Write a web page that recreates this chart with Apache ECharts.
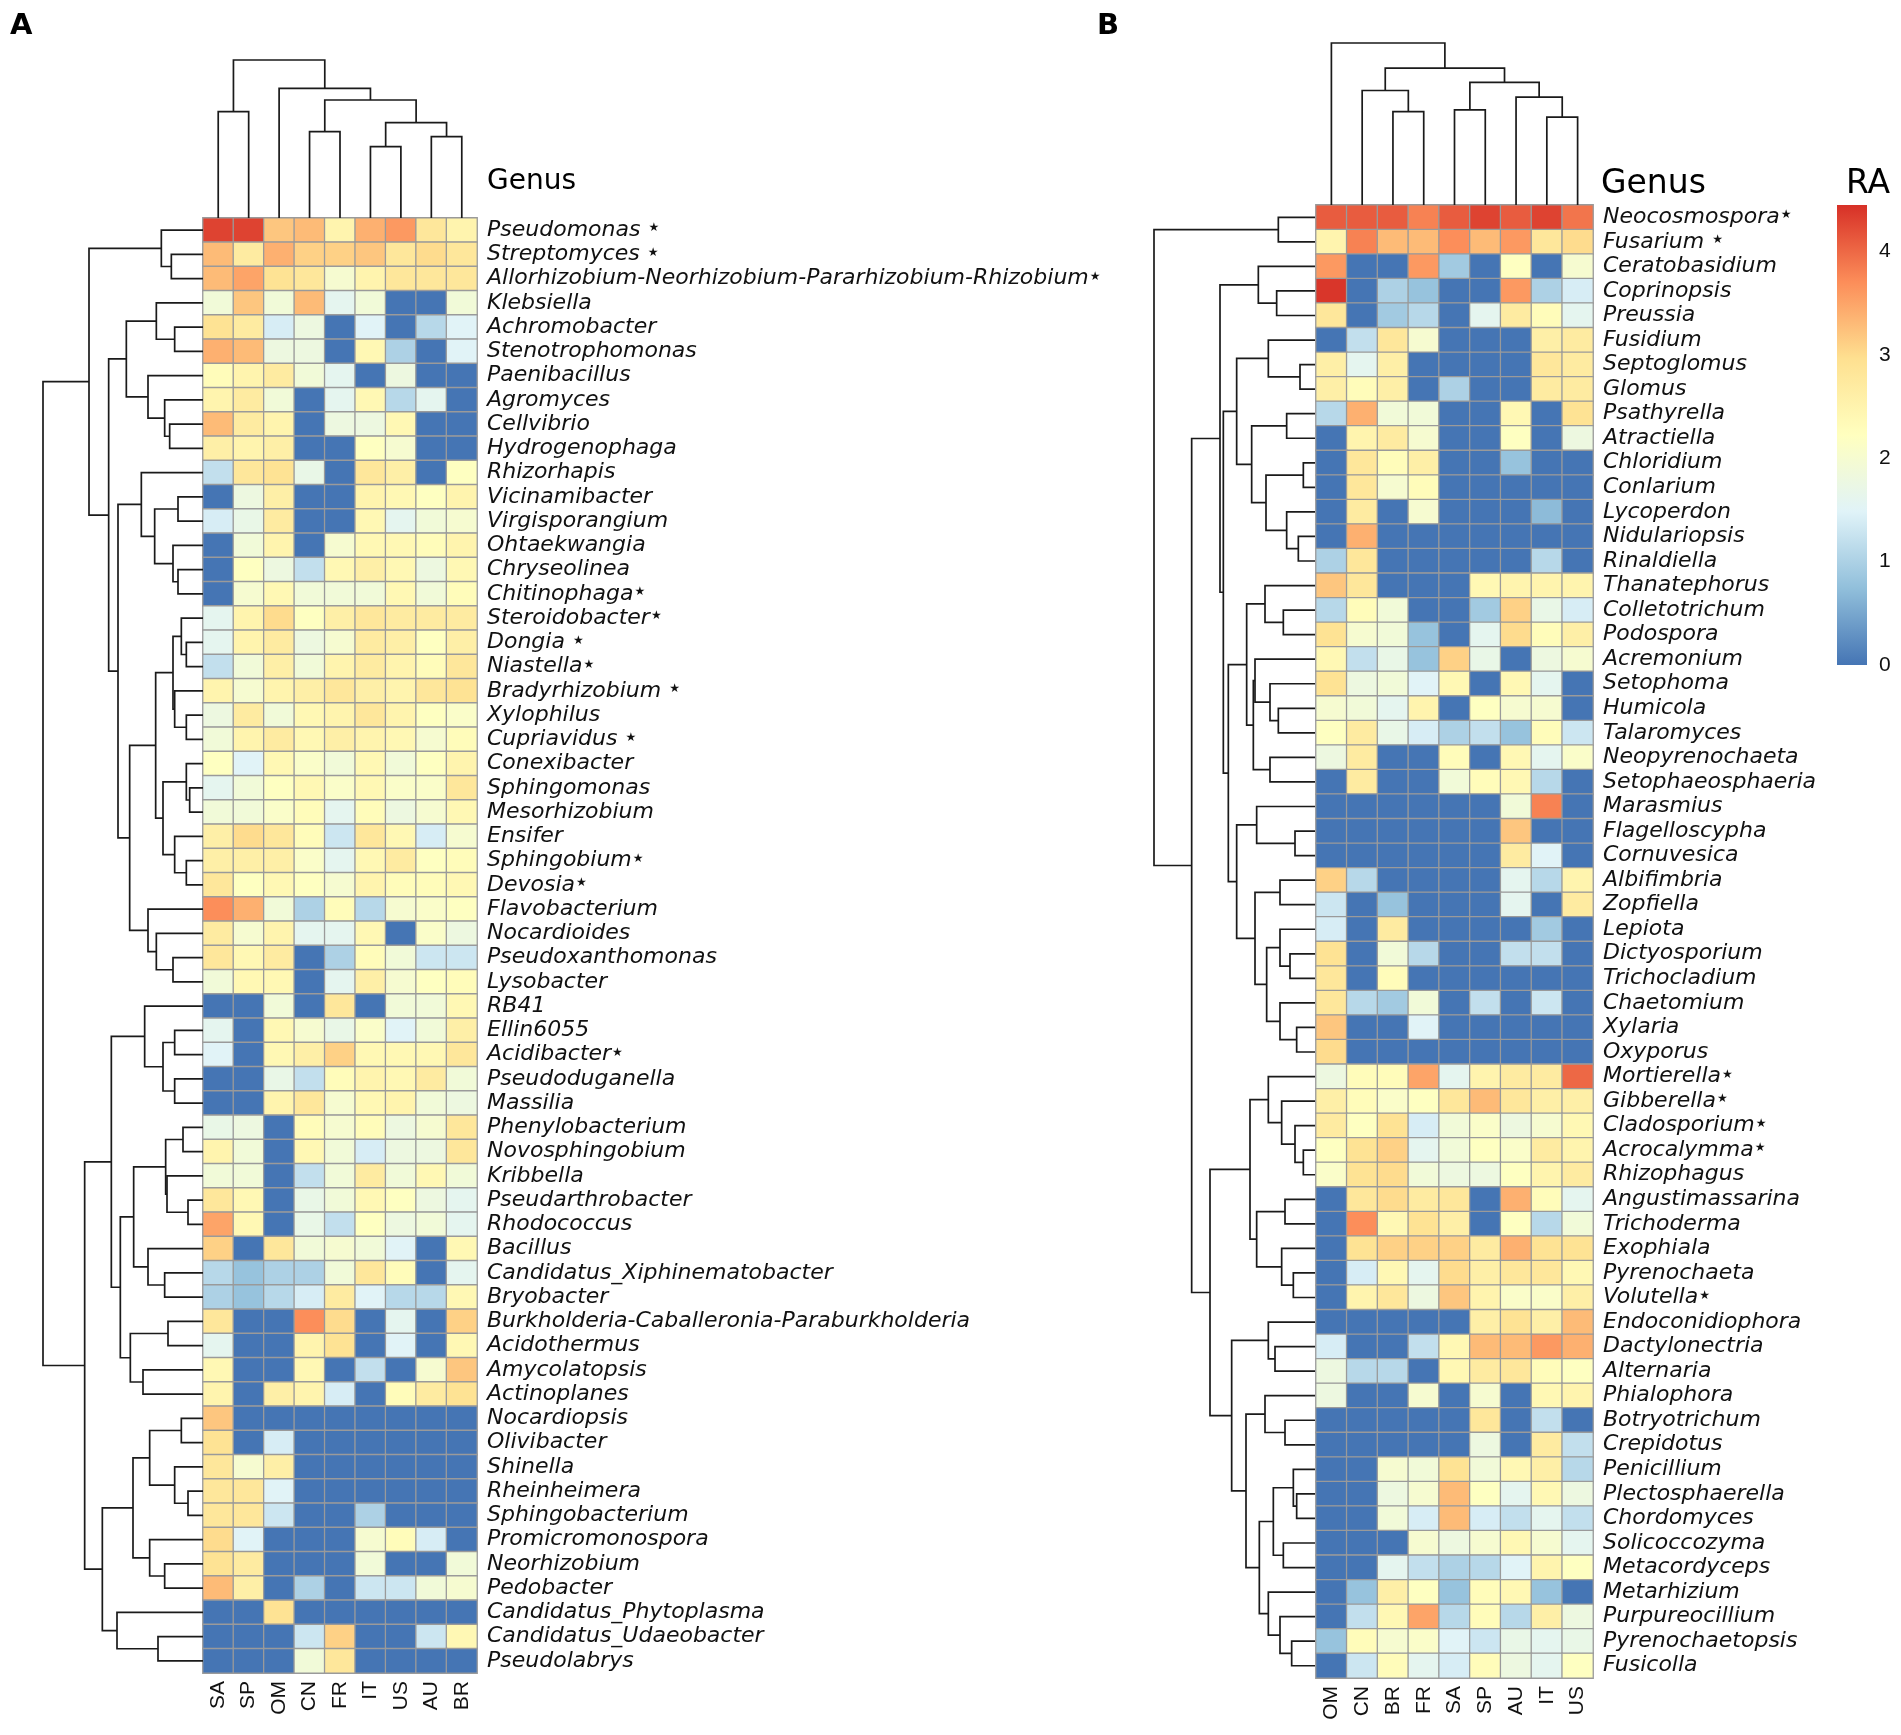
<!DOCTYPE html>
<html>
<head>
<meta charset="utf-8">
<script src="https://cdn.jsdelivr.net/npm/echarts@6/dist/echarts.min.js"></script>
<style>
html,body{margin:0;padding:0;background:#fff;}
#chart{width:1901px;height:1735px;}
</style>
</head>
<body>
<div id="chart"></div>
<script>
// ---------------- DATA ----------------
const colsA = ['SA','SP','OM','CN','FR','IT','US','AU','BR'];
const colsB = ['OM','CN','BR','FR','SA','SP','AU','IT','US'];

const rowsA = ['Pseudomonas *','Streptomyces *','Allorhizobium-Neorhizobium-Pararhizobium-Rhizobium*','Klebsiella','Achromobacter','Stenotrophomonas','Paenibacillus','Agromyces','Cellvibrio','Hydrogenophaga','Rhizorhapis','Vicinamibacter','Virgisporangium','Ohtaekwangia','Chryseolinea','Chitinophaga*','Steroidobacter*','Dongia *','Niastella*','Bradyrhizobium *','Xylophilus','Cupriavidus *','Conexibacter','Sphingomonas','Mesorhizobium','Ensifer','Sphingobium*','Devosia*','Flavobacterium','Nocardioides','Pseudoxanthomonas','Lysobacter','RB41','Ellin6055','Acidibacter*','Pseudoduganella','Massilia','Phenylobacterium','Novosphingobium','Kribbella','Pseudarthrobacter','Rhodococcus','Bacillus','Candidatus_Xiphinematobacter','Bryobacter','Burkholderia-Caballeronia-Paraburkholderia','Acidothermus','Amycolatopsis','Actinoplanes','Nocardiopsis','Olivibacter','Shinella','Rheinheimera','Sphingobacterium','Promicromonospora','Neorhizobium','Pedobacter','Candidatus_Phytoplasma','Candidatus_Udaeobacter','Pseudolabrys'];

const rowsB = ['Neocosmospora*','Fusarium *','Ceratobasidium','Coprinopsis','Preussia','Fusidium','Septoglomus','Glomus','Psathyrella','Atractiella','Chloridium','Conlarium','Lycoperdon','Nidulariopsis','Rinaldiella','Thanatephorus','Colletotrichum','Podospora','Acremonium','Setophoma','Humicola','Talaromyces','Neopyrenochaeta','Setophaeosphaeria','Marasmius','Flagelloscypha','Cornuvesica','Albifimbria','Zopfiella','Lepiota','Dictyosporium','Trichocladium','Chaetomium','Xylaria','Oxyporus','Mortierella*','Gibberella*','Cladosporium*','Acrocalymma*','Rhizophagus','Angustimassarina','Trichoderma','Exophiala','Pyrenochaeta','Volutella*','Endoconidiophora','Dactylonectria','Alternaria','Phialophora','Botryotrichum','Crepidotus','Penicillium','Plectosphaerella','Chordomyces','Solicoccozyma','Metacordyceps','Metarhizium','Purpureocillium','Pyrenochaetopsis','Fusicolla'];

const heatA = [
[4.3,4.3,3.2,3.3,2.5,3.4,3.6,2.8,2.5],
[3.3,2.7,3.4,3.1,3.1,3.2,2.8,3.0,2.8],
[3.3,3.5,2.9,2.8,2.0,2.5,2.8,2.8,2.8],
[1.9,3.2,1.9,3.3,1.6,1.9,0,0,1.9],
[2.9,2.7,1.4,1.8,0,1.5,0,1.1,1.5],
[3.4,3.3,1.8,1.8,0,2.4,1.0,0,1.5],
[2.3,2.5,2.7,1.9,1.6,0,1.8,0,0],
[2.5,2.7,1.9,0,1.6,2.4,1.1,1.6,0],
[3.3,2.7,2.5,0,1.8,1.8,2.4,0,0],
[2.6,2.5,2.6,0,0,2.2,2.0,0,0],
[1.2,2.8,2.9,1.7,0,2.8,2.6,0,2.2],
[0,1.8,2.6,0,0,2.5,2.4,2.2,2.5],
[1.4,1.7,2.7,0,0,2.4,1.6,1.9,2.0],
[0,1.9,2.5,0,2.0,2.4,2.4,2.3,2.5],
[0,2.2,1.8,1.2,2.4,2.6,2.4,1.8,2.4],
[0,2.0,2.4,1.9,1.9,1.9,2.4,1.9,2.3],
[1.6,2.5,3.0,2.2,2.6,2.8,2.7,2.7,2.7],
[1.6,2.5,2.7,1.8,2.0,2.7,2.6,2.2,2.6],
[1.2,1.9,2.6,1.9,2.5,2.7,2.5,2.3,2.8],
[2.5,2.0,2.5,2.6,2.8,2.6,2.5,2.8,2.9],
[1.8,2.7,1.9,2.4,2.5,2.8,2.5,2.2,2.1],
[1.9,2.5,2.7,2.4,2.6,2.5,2.4,2.0,2.3],
[2.2,1.5,2.4,2.1,1.9,2.4,1.9,2.2,2.5],
[1.6,1.9,2.2,2.4,2.1,2.4,2.1,2.1,2.8],
[1.9,1.9,2.1,2.3,1.6,2.3,1.8,2.0,2.4],
[2.6,3.0,2.8,2.3,1.3,2.8,2.4,1.4,2.0],
[2.6,2.6,2.6,2.1,1.6,2.4,2.7,2.2,2.3],
[2.8,2.2,2.4,2.2,2.0,2.5,2.3,2.3,2.4],
[3.7,3.4,1.9,1.0,2.3,1.1,2.0,2.1,2.2],
[2.7,2.0,2.5,1.6,1.6,2.4,0,2.1,1.8],
[2.8,2.4,2.7,0,1.0,2.3,1.9,1.3,1.3],
[1.9,2.4,2.4,0,1.6,2.6,2.0,2.2,2.3],
[0,0,1.9,0,2.8,0,1.9,1.9,2.4],
[1.6,0,2.4,2.0,1.7,2.1,1.5,1.9,2.6],
[1.5,0,2.4,2.6,3.1,2.4,2.4,2.4,2.8],
[0,0,1.7,1.2,2.3,2.5,2.4,2.7,1.9],
[0,0,2.5,2.8,2.0,2.4,2.5,1.9,1.8],
[1.7,1.8,0,2.3,2.0,2.3,1.8,2.0,2.8],
[2.5,1.9,0,2.4,1.9,1.4,1.8,1.8,2.8],
[1.9,1.9,0,1.2,1.9,2.7,1.9,2.4,1.9],
[2.8,2.4,0,1.7,1.9,2.4,2.2,1.8,1.6],
[3.5,2.4,0,1.7,1.2,2.2,1.8,1.9,1.6],
[3.1,0,2.8,1.9,2.0,1.9,1.5,0,2.4],
[1.1,0.8,1.0,1.0,1.9,2.8,2.3,0,1.6],
[1.0,0.8,1.1,1.4,2.7,1.5,1.1,1.1,2.4],
[2.8,0,0,3.7,3.0,0,1.6,0,3.1],
[1.6,0,0,2.5,2.9,0,1.5,0,2.4],
[2.4,0,0,2.4,0,1.2,0,2.0,3.2],
[2.5,0,2.6,2.5,1.4,0,2.3,2.7,2.9],
[3.2,0,0,0,0,0,0,0,0],
[2.9,0,1.4,0,0,0,0,0,0],
[2.8,2.0,2.6,0,0,0,0,0,0],
[2.8,2.8,1.5,0,0,0,0,0,0],
[2.8,2.8,1.3,0,0,1.0,0,0,0],
[3.0,1.5,0,0,0,2.0,2.3,1.4,0],
[2.9,2.7,0,0,0,1.9,0,0,1.9],
[3.3,2.6,0,1.0,0,1.3,1.3,1.9,2.0],
[0,0,2.9,0,0,0,0,0,0],
[0,0,0,1.3,3.1,0,0,1.3,2.4],
[0,0,0,1.9,2.8,0,0,0,0]
];

const heatB = [
[4.1,4.1,4.1,3.8,4.1,4.3,4.1,4.3,3.9],
[2.5,3.8,3.3,3.3,3.7,3.3,3.6,2.8,3.0],
[3.6,0,0,3.6,0.9,0,2.2,0,2.0],
[4.4,0,1.0,0.8,0,0,3.6,1.0,1.4],
[2.8,0,0.9,1.1,0,1.6,2.7,2.3,1.6],
[0,1.2,2.8,2.0,0,0,0,2.6,2.7],
[2.6,1.6,2.6,0,0,0,0,2.8,2.7],
[2.6,2.3,2.6,0,1.0,0,0,2.7,2.7],
[1.1,3.4,1.9,1.9,0,0,2.4,0,2.9],
[0,2.5,2.7,2.0,0,0,2.2,0,1.8],
[0,2.8,2.3,2.6,0,0,0.8,0,0],
[0,2.8,2.0,2.3,0,0,0,0,0],
[0,2.7,0,2.0,0,0,0,0.7,0],
[0,3.4,0,0,0,0,0,0,0],
[1.0,2.8,0,0,0,0,0,1.1,0],
[3.2,2.8,0,0,0,2.4,2.5,2.5,2.5],
[1.1,2.3,1.9,0,0,0.9,3.1,1.7,1.4],
[2.9,2.0,1.9,0.8,0,1.6,3.0,2.3,2.6],
[2.4,1.2,1.7,0.8,3.1,1.7,0,1.8,2.0],
[2.9,1.8,1.9,1.5,2.4,0,2.4,1.6,0],
[2.0,1.9,1.6,2.5,0,2.2,2.0,2.0,0],
[2.2,2.7,1.7,1.4,1.0,1.2,0.8,2.3,1.3],
[1.8,2.7,0,0,2.3,0,2.4,1.6,2.1],
[0,2.7,0,0,1.9,2.3,2.4,1.1,0],
[0,0,0,0,0,0,1.9,3.8,0],
[0,0,0,0,0,0,3.2,0,0],
[0,0,0,0,0,0,2.7,1.5,0],
[3.1,1.1,0,0,0,0,1.6,1.1,2.5],
[1.3,0,0.8,0,0,0,1.6,0,2.7],
[1.4,0,2.7,0,0,0,0,0.9,0],
[2.9,0,1.9,1.1,0,0,1.2,1.2,0],
[2.8,0,2.3,0,0,0,0,0,0],
[2.8,1.1,0.9,1.9,0,1.2,0,1.3,0],
[3.2,0,0,1.5,0,0,0,0,0],
[3.0,0,0,0,0,0,0,0,0],
[1.8,2.3,2.3,3.5,1.6,2.5,2.7,2.7,4.0],
[2.6,2.3,2.1,2.2,2.8,3.3,2.8,2.6,2.6],
[2.7,2.2,2.9,1.4,1.9,2.1,1.8,2.0,2.4],
[2.2,2.9,3.1,1.6,1.9,2.2,2.1,2.7,2.5],
[2.1,2.9,3.0,1.9,1.8,1.8,2.2,2.5,2.7],
[0,2.8,3.0,2.7,2.8,0,3.4,2.3,1.6],
[0,3.7,2.4,2.9,2.6,0,2.2,1.1,1.9],
[0,2.9,3.1,3.1,3.1,2.7,3.4,2.9,2.9],
[0,1.4,2.4,1.6,3.0,2.6,2.8,2.8,2.4],
[0,2.5,2.8,1.8,3.2,2.5,2.1,2.1,2.6],
[0,0,0,0,0,2.6,2.9,2.6,3.3],
[1.4,0,0,1.2,2.4,3.3,3.3,3.6,3.4],
[1.8,1.1,1.1,0,2.4,2.7,2.8,2.3,2.2],
[1.8,0,0,2.0,0,2.0,0,2.4,2.5],
[0,0,0,0,0,2.8,0,1.2,0],
[0,0,0,0,0,1.8,0,2.7,1.2],
[0,0,2.0,1.9,2.9,1.9,2.4,2.6,1.1],
[0,0,1.8,2.0,3.3,2.2,1.6,2.4,1.8],
[0,0,1.9,1.4,3.3,1.4,1.2,1.6,1.2],
[0,0,0,2.0,1.8,2.0,2.4,2.0,1.6],
[0,0,1.6,1.2,1.0,1.1,1.5,2.5,2.2],
[0,0.8,2.6,2.2,0.8,2.3,2.4,0.8,0],
[0,1.2,2.4,3.5,1.1,2.3,1.1,2.6,1.8],
[0.8,2.3,2.0,2.1,1.5,1.3,1.7,1.6,1.7],
[0,1.3,2.3,1.6,1.4,2.3,1.8,1.6,2.2]
];

// Dendrogram merges (hclust style): [childA, childB, height]; negative = leaf (display order, 1-based), positive = earlier merge (1-based)
const colTreeA = [[-6,-7,71.3],[-8,-9,81.3],[-4,-5,86.3],[1,2,95.3],[-1,-2,106.3],[3,4,118],[-3,6,129.7],[5,7,158]];
const colTreeB = [[-8,-9,87.7],[-3,-4,93.3],[-5,-6,95],[-7,1,107.7],[-2,2,114.3],[3,4,122.3],[5,6,136.7],[-1,7,161.7]];

const rowTreeA = [
[-2,-3,95],[-1,1,125],[-5,-6,85],[-4,3,140],[-9,-10,100],[-8,5,115],[-7,6,165],[4,7,230],
[-12,-13,75],[-15,-16,75],[-14,10,90],[9,11,145],[-11,12,185],
[-18,-19,50],[-17,14,65],[-21,-22,50],[-20,16,85],[15,17,90],
[-24,-25,40],[-23,19,50],[-27,-28,50],[-26,21,85],[20,22,120],[18,23,142],
[-31,-32,90],[-30,25,140],[-29,26,165],[24,27,220],[13,28,255],[8,29,283],[2,30,342],
[-34,-35,85],[-36,-37,85],[32,33,120],[-33,34,175],
[-38,-39,60],[-41,-42,45],[-40,37,108],[36,38,112],[-44,-45,115],[-43,40,165],[39,41,208],
[-46,-47,105],[-48,-49,180],[43,44,218],[42,45,248],[35,46,275],
[-50,-51,65],[-53,-54,45],[-52,49,85],[48,50,160],[-56,-57,115],[-55,52,160],[51,53,210],
[-59,-60,135],[-58,55,258],[54,56,302],[47,57,355],[31,58,480]
];

const rowTreeB = [
[-1,-2,110],[-4,-5,115],[-3,2,170],[-7,-8,45],[-6,4,140],[-9,-10,85],[-11,-12,35],[-14,-15,50],
[-13,8,85],[7,9,147],[6,10,190],[5,11,235],[-17,-18,95],[-16,13,150],[-21,-22,110],[-20,15,135],
[-19,16,180],[-23,-24,135],[17,18,185],[14,19,205],[-26,-27,60],[-25,21,175],[-28,-29,105],
[-31,-32,75],[-30,24,105],[-34,-35,55],[-33,26,105],[25,27,145],[23,28,180],[22,29,235],
[20,30,260],[12,31,275],[3,32,285],
[-39,-40,35],[-38,34,60],[-37,35,100],[-36,36,140],[-41,-42,90],[-44,-45,65],[-43,39,100],
[38,40,175],[37,41,195],[-47,-48,120],[-46,43,140],[-50,-51,90],[-49,45,150],[-53,-54,55],
[-52,47,65],[-55,-56,95],[48,49,125],[-59,-60,70],[-58,51,105],[-57,52,140],[50,53,167],
[46,54,207],[44,55,250],[42,56,315],[33,57,370],[1,58,483]
];

const raColors = ['#4575B4','#91BFDB','#E0F3F8','#FFFFBF','#FEE090','#FC8D59','#D73027'];
const raMin = 0;
const raMax = 4.45;

// ---------------- BUILD ----------------
function layoutTree(merges){
  const pos = [], ht = [];
  const p = k => k < 0 ? (-k - 1) + 0.5 : pos[k - 1];
  const h = k => k < 0 ? 0 : ht[k - 1];
  return merges.map((m, i) => {
    const a = p(m[0]), b = p(m[1]);
    const r = [a, b, h(m[0]), h(m[1]), m[2]];
    pos[i] = (a + b) / 2; ht[i] = m[2];
    return r;
  });
}
function heatData(mat){
  const out = [];
  mat.forEach((row, r) => row.forEach((v, c) => out.push([c, r, v])));
  return out;
}
function dendroRender(rowMode){
  return function(params, api){
    const a = api.value(0), b = api.value(1), ha = api.value(2), hb = api.value(3), h = api.value(4);
    const pts = rowMode ? [[ha,a],[h,a],[h,b],[hb,b]] : [[a,ha],[a,h],[b,h],[b,hb]];
    return {type:'polyline', shape:{points: pts.map(q => api.coord(q))},
            style:{stroke:'#1a1a1a', lineWidth:1.7, fill:null}};
  };
}
const rowFont = 'DejaVu Sans';
const labelRich = {
  n:{fontFamily:rowFont, fontStyle:'italic', fontSize:22, color:'#111'},
  s:{fontFamily:rowFont, fontSize:12, color:'#111', verticalAlign:'middle', padding:[0,0,4,1]}
};
const labelFmt = v => v.endsWith('*') ? '{n|' + v.slice(0,-1) + '}{s|★}' : '{n|' + v + '}';

const hidden = {show:false};
const grids = [
  {left:203, top:218, width:274, height:1455},   // 0 heat A
  {left:1316, top:205, width:277, height:1473},  // 1 heat B
  {left:43, top:218, width:160, height:1455},    // 2 row dendro A
  {left:203, top:60, width:274, height:158},     // 3 col dendro A
  {left:1154, top:205, width:161, height:1473},  // 4 row dendro B
  {left:1316, top:43, width:277, height:162},    // 5 col dendro B
  {left:1837, top:205, width:30, height:460}     // 6 colour bar
];
const colLabel = {interval:0, rotate:90, margin:8, fontFamily:'Liberation Sans', fontSize:21, color:'#111'};
const rowLabel = {interval:0, margin:10, formatter:labelFmt, rich:labelRich};

const xAxes = [
  {gridIndex:0, type:'category', data:colsA, axisLine:hidden, axisTick:hidden, axisLabel:colLabel},
  {gridIndex:1, type:'category', data:colsB, axisLine:hidden, axisTick:hidden, axisLabel:colLabel},
  {gridIndex:2, type:'value', min:0, max:480, inverse:true, show:false},
  {gridIndex:3, type:'value', min:0, max:9, show:false},
  {gridIndex:4, type:'value', min:0, max:483, inverse:true, show:false},
  {gridIndex:5, type:'value', min:0, max:9, show:false},
  {gridIndex:6, type:'category', data:['RA'], show:false}
];
const yAxes = [
  {gridIndex:0, type:'category', data:rowsA, inverse:true, position:'right', axisLine:hidden, axisTick:hidden, axisLabel:rowLabel},
  {gridIndex:1, type:'category', data:rowsB, inverse:true, position:'right', axisLine:hidden, axisTick:hidden, axisLabel:rowLabel},
  {gridIndex:2, type:'value', min:0, max:60, inverse:true, show:false},
  {gridIndex:3, type:'value', min:0, max:158, show:false},
  {gridIndex:4, type:'value', min:0, max:60, inverse:true, show:false},
  {gridIndex:5, type:'value', min:0, max:161.7, show:false},
  {gridIndex:6, type:'value', min:raMin, max:raMax, interval:1, position:'right',
   axisLine:hidden, axisTick:hidden, splitLine:hidden,
   axisLabel:{margin:12, fontFamily:'Liberation Sans', fontSize:21, color:'#111',
              formatter: v => Number.isInteger(v) ? String(v) : ''}}
];

const heatStyle = {borderColor:'#9a9a9a', borderWidth:1.3};
const series = [
  {type:'heatmap', xAxisIndex:0, yAxisIndex:0, data:heatData(heatA), itemStyle:heatStyle, emphasis:{disabled:true}},
  {type:'heatmap', xAxisIndex:1, yAxisIndex:1, data:heatData(heatB), itemStyle:heatStyle, emphasis:{disabled:true}},
  {type:'custom', xAxisIndex:2, yAxisIndex:2, data:layoutTree(rowTreeA), renderItem:dendroRender(true), clip:false, silent:true},
  {type:'custom', xAxisIndex:3, yAxisIndex:3, data:layoutTree(colTreeA), renderItem:dendroRender(false), clip:false, silent:true},
  {type:'custom', xAxisIndex:4, yAxisIndex:4, data:layoutTree(rowTreeB), renderItem:dendroRender(true), clip:false, silent:true},
  {type:'custom', xAxisIndex:5, yAxisIndex:5, data:layoutTree(colTreeB), renderItem:dendroRender(false), clip:false, silent:true},
  {type:'bar', xAxisIndex:6, yAxisIndex:6, data:[raMax], barWidth:'100%', silent:true,
   itemStyle:{color: new echarts.graphic.LinearGradient(0,1,0,0,
      raColors.map((c,i) => ({offset:i/(raColors.length-1), color:c})))}}
];

const chart = echarts.init(document.getElementById('chart'), null, {renderer:'canvas'});
chart.setOption({
  backgroundColor:'#ffffff',
  animation:false,
  grid:grids,
  xAxis:xAxes,
  yAxis:yAxes,
  visualMap:{type:'continuous', show:false, min:raMin, max:raMax, seriesIndex:[0,1], dimension:2,
             inRange:{color:raColors}},
  series:series,
  graphic:[
    {type:'text', left:10, top:12, style:{text:'A', font:'bold 29px "DejaVu Sans"', fill:'#000'}},
    {type:'text', left:1097, top:12, style:{text:'B', font:'bold 29px "DejaVu Sans"', fill:'#000'}},
    {type:'text', left:487, top:168, style:{text:'Genus', font:'28px "DejaVu Sans"', fill:'#000'}},
    {type:'text', left:1601, top:168, style:{text:'Genus', font:'33px "DejaVu Sans"', fill:'#000'}},
    {type:'text', left:1846, top:168, style:{text:'RA', font:'33px "DejaVu Sans"', fill:'#000'}}
  ]
});
</script>
</body>
</html>
